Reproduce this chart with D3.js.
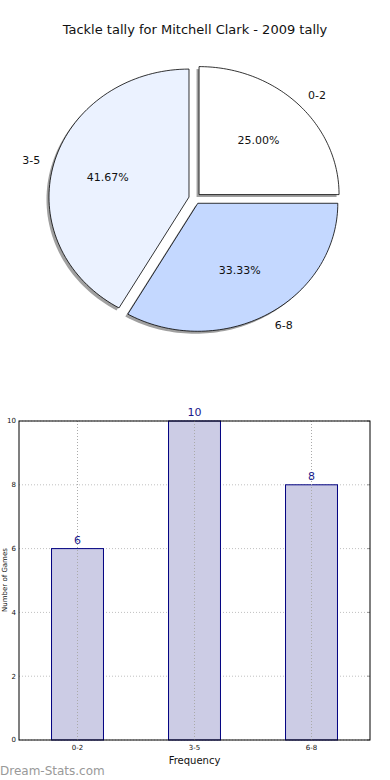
<!DOCTYPE html>
<html>
<head>
<meta charset="utf-8">
<script src="https://cdn.jsdelivr.net/npm/d3@7"></script>
<style>
  body { margin: 0; background: #fff; }
  svg { display: block; font-family: "DejaVu Sans", sans-serif; }
</style>
</head>
<body>
<div id="chart"></div>
<script>
// data
const categories = ["0-2", "3-5", "6-8"];
const counts = [6, 10, 8];
const sliceColors = ["#ffffff", "#ebf2ff", "#c4d8ff"];
const yTicks = [0, 2, 4, 6, 8, 10];

const W = 390, H = 780;
const svg = d3.select("#chart").append("svg")
    .attr("width", W)
    .attr("height", H);

// title
svg.append("text")
    .attr("x", 195).attr("y", 34)
    .attr("text-anchor", "middle")
    .attr("font-size", 13)
    .attr("fill", "#111")
    .text("Tackle tally for Mitchell Clark - 2009 tally");

// ---- pie (elliptical, like the matplotlib one) ----
const cx = 194.8, cy = 198.5, rx = 140, ry = 128, explode = 0.043;
const total = d3.sum(counts);

// matplotlib style: start at 0 rad (3 o'clock), counter-clockwise
let acc = 0;
const slices = counts.map((v, i) => {
  const a0 = acc / total * 2 * Math.PI;
  acc += v;
  const a1 = acc / total * 2 * Math.PI;
  return { cat: categories[i], v, a0, a1, mid: (a0 + a1) / 2, color: sliceColors[i] };
});

function slicePath(d, ox, oy) {
  const x0 = cx + ox, y0 = cy + oy;
  const p = d3.path();
  p.moveTo(x0, y0);
  const n = 80;
  for (let k = 0; k <= n; k++) {
    const a = d.a0 + (d.a1 - d.a0) * k / n;
    p.lineTo(x0 + rx * Math.cos(a), y0 - ry * Math.sin(a));
  }
  p.closePath();
  return p.toString();
}

const pie = svg.append("g");
slices.forEach(d => {
  d.ox = explode * rx * Math.cos(d.mid);
  d.oy = -explode * ry * Math.sin(d.mid);
});

// shadows
pie.selectAll("path.shadow")
  .data(slices)
  .join("path")
    .attr("class", "shadow")
    .attr("d", d => slicePath(d, d.ox - 2.5, d.oy + 2.5))
    .attr("fill", "#808080")
    .attr("opacity", 0.75);

pie.selectAll("path.slice")
  .data(slices)
  .join("path")
    .attr("class", "slice")
    .attr("d", d => slicePath(d, d.ox, d.oy))
    .attr("fill", d => d.color)
    .attr("stroke", "#000")
    .attr("stroke-width", 0.8);

// labels at 1.1 radius, pct at 0.6
pie.selectAll("text.lab")
  .data(slices)
  .join("text")
    .attr("class", "lab")
    .attr("x", d => cx + d.ox + 1.1 * rx * Math.cos(d.mid))
    .attr("y", d => cy + d.oy - 1.1 * ry * Math.sin(d.mid))
    .attr("dy", "0.35em")
    .attr("text-anchor", d => Math.cos(d.mid) > 0 ? "start" : "end")
    .attr("font-size", 11)
    .attr("fill", "#111")
    .text(d => d.cat);

pie.selectAll("text.pct")
  .data(slices)
  .join("text")
    .attr("class", "pct")
    .attr("x", d => cx + d.ox + 0.6 * rx * Math.cos(d.mid))
    .attr("y", d => cy + d.oy - 0.6 * ry * Math.sin(d.mid))
    .attr("dy", "0.35em")
    .attr("text-anchor", "middle")
    .attr("font-size", 11)
    .attr("fill", "#111")
    .text(d => (d.v / total * 100).toFixed(2) + "%");

// ---- bar chart ----
const pLeft = 19, pRight = 370, pTop = 421, pBottom = 740;

const x = d3.scaleBand().domain(categories).range([pLeft, pRight])
    .paddingInner(0.556).paddingOuter(0.278);
const y = d3.scaleLinear().domain([0, 10]).range([pBottom, pTop]);

const bars = svg.append("g");

// grid
bars.selectAll("line.gy")
  .data(yTicks)
  .join("line")
    .attr("class", "gy")
    .attr("x1", pLeft).attr("x2", pRight)
    .attr("y1", d => y(d)).attr("y2", d => y(d))
    .attr("stroke", "#c0c0c0")
    .attr("stroke-dasharray", "1,2");

bars.selectAll("rect")
  .data(categories)
  .join("rect")
    .attr("x", d => x(d))
    .attr("y", (d, i) => y(counts[i]))
    .attr("width", x.bandwidth())
    .attr("height", (d, i) => pBottom - y(counts[i]))
    .attr("fill", "#ccccE5")
    .attr("stroke", "#000080")
    .attr("stroke-width", 1);

bars.selectAll("line.gx")
  .data(categories)
  .join("line")
    .attr("class", "gx")
    .attr("x1", d => x(d) + x.bandwidth() / 2)
    .attr("x2", d => x(d) + x.bandwidth() / 2)
    .attr("y1", pTop).attr("y2", pBottom)
    .attr("stroke", "#aaaaaa")
    .attr("stroke-dasharray", "1,2");

// value labels
bars.selectAll("text.val")
  .data(categories)
  .join("text")
    .attr("class", "val")
    .attr("x", d => x(d) + x.bandwidth() / 2)
    .attr("y", (d, i) => y(counts[i]) - 5)
    .attr("text-anchor", "middle")
    .attr("font-size", 11)
    .attr("fill", "#1a1a8c")
    .text((d, i) => counts[i]);

// frame
svg.append("rect")
    .attr("x", pLeft).attr("y", pTop)
    .attr("width", pRight - pLeft).attr("height", pBottom - pTop)
    .attr("fill", "none")
    .attr("stroke", "#000")
    .attr("stroke-width", 1);

// right side small ticks
bars.selectAll("line.rt")
  .data(yTicks)
  .join("line")
    .attr("class", "rt")
    .attr("x1", pRight - 3).attr("x2", pRight)
    .attr("y1", d => y(d)).attr("y2", d => y(d))
    .attr("stroke", "#999");

// y tick labels
bars.selectAll("text.yt")
  .data(yTicks)
  .join("text")
    .attr("class", "yt")
    .attr("x", pLeft - 3)
    .attr("y", d => y(d))
    .attr("dy", "0.35em")
    .attr("text-anchor", "end")
    .attr("font-size", 7)
    .attr("fill", "#111")
    .text(d => d);

// x tick labels
bars.selectAll("text.xt")
  .data(categories)
  .join("text")
    .attr("class", "xt")
    .attr("x", d => x(d) + x.bandwidth() / 2)
    .attr("y", pBottom + 10)
    .attr("text-anchor", "middle")
    .attr("font-size", 7)
    .attr("fill", "#111")
    .text(d => d);

svg.append("text")
    .attr("x", (pLeft + pRight) / 2).attr("y", 764)
    .attr("text-anchor", "middle")
    .attr("font-size", 10)
    .attr("fill", "#111")
    .text("Frequency");

// y axis label, sits right at the page edge as in the source
svg.append("text")
    .attr("transform", "translate(7,580) rotate(-90)")
    .attr("text-anchor", "middle")
    .attr("font-size", 7)
    .attr("fill", "#111")
    .text("Number of Games");

// watermark
svg.append("text")
    .attr("x", 0).attr("y", 775)
    .attr("font-size", 12)
    .attr("fill", "#999")
    .text("Dream-Stats.com");
</script>
</body>
</html>
